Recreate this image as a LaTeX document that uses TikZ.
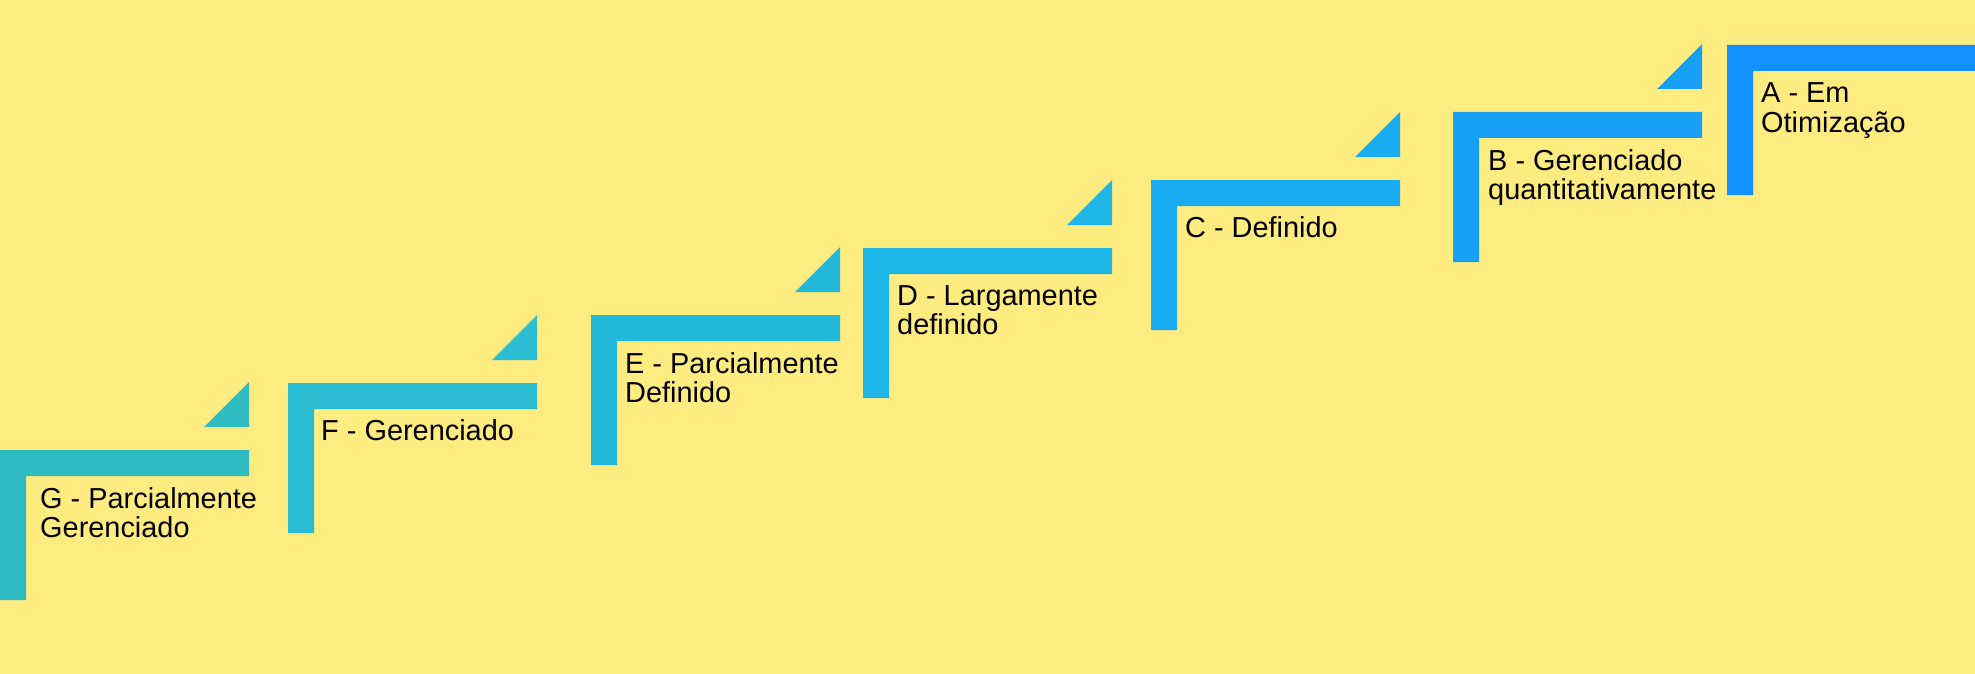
\documentclass[tikz,border=0pt]{standalone}
\usepackage{fontspec}
\setmainfont{Liberation Sans}
\definecolor{bgyellow}{RGB}{255,236,128}
\definecolor{cG}{RGB}{46,187,194}
\definecolor{cF}{RGB}{42,188,208}
\definecolor{cE}{RGB}{35,185,218}
\definecolor{cD}{RGB}{28,181,230}
\definecolor{cC}{RGB}{26,172,240}
\definecolor{cB}{RGB}{21,160,246}
\definecolor{cA}{RGB}{18,145,255}
\begin{document}
\begin{tikzpicture}[x=1pt,y=-1pt,
  lbl/.style={anchor=base west,inner sep=0pt,align=left,text=black,
              font=\fontsize{28.9}{29.3}\selectfont}]
\fill[bgyellow] (0,0) rectangle (1975,674);
\useasboundingbox (0,0) rectangle (1975,674);
% stairs: left/top/colour/wedge
\foreach \L/\T/\c/\w in {0/450/cG/1,288/383/cF/1,591/315/cE/1,863/248/cD/1,1151/180/cC/1,1453/112/cB/1,1727/45/cA/0}{
  \fill[\c] (\L,\T) -- ++(249,0) -- ++(0,26) -- ++(-223,0) -- ++(0,124) -- ++(-26,0) -- cycle;
  \ifnum\w=1
    \fill[\c] (\L+204,\T-23) -- (\L+249,\T-23) -- (\L+249,\T-68) -- cycle;
  \fi
}
% two-line labels are anchored at the baseline of their last line
\node[lbl] (g) at (40,537.3) {G - Parcialmente\\Gerenciado};
\node[lbl] (f) at (321,440) {F - Gerenciado};
\node[lbl] (e) at (625,402.3) {E - Parcialmente\\Definido};
\node[lbl] (d) at (897,334.3) {D - Largamente\\definido};
\node[lbl] (c) at (1185,237) {C - Definido};
\node[lbl] (b) at (1488,199.3) {B - Gerenciado\\quantitativamente};
\node[lbl] (a) at (1761,132.3) {A - Em\\Otimização};
\end{tikzpicture}
\end{document}
